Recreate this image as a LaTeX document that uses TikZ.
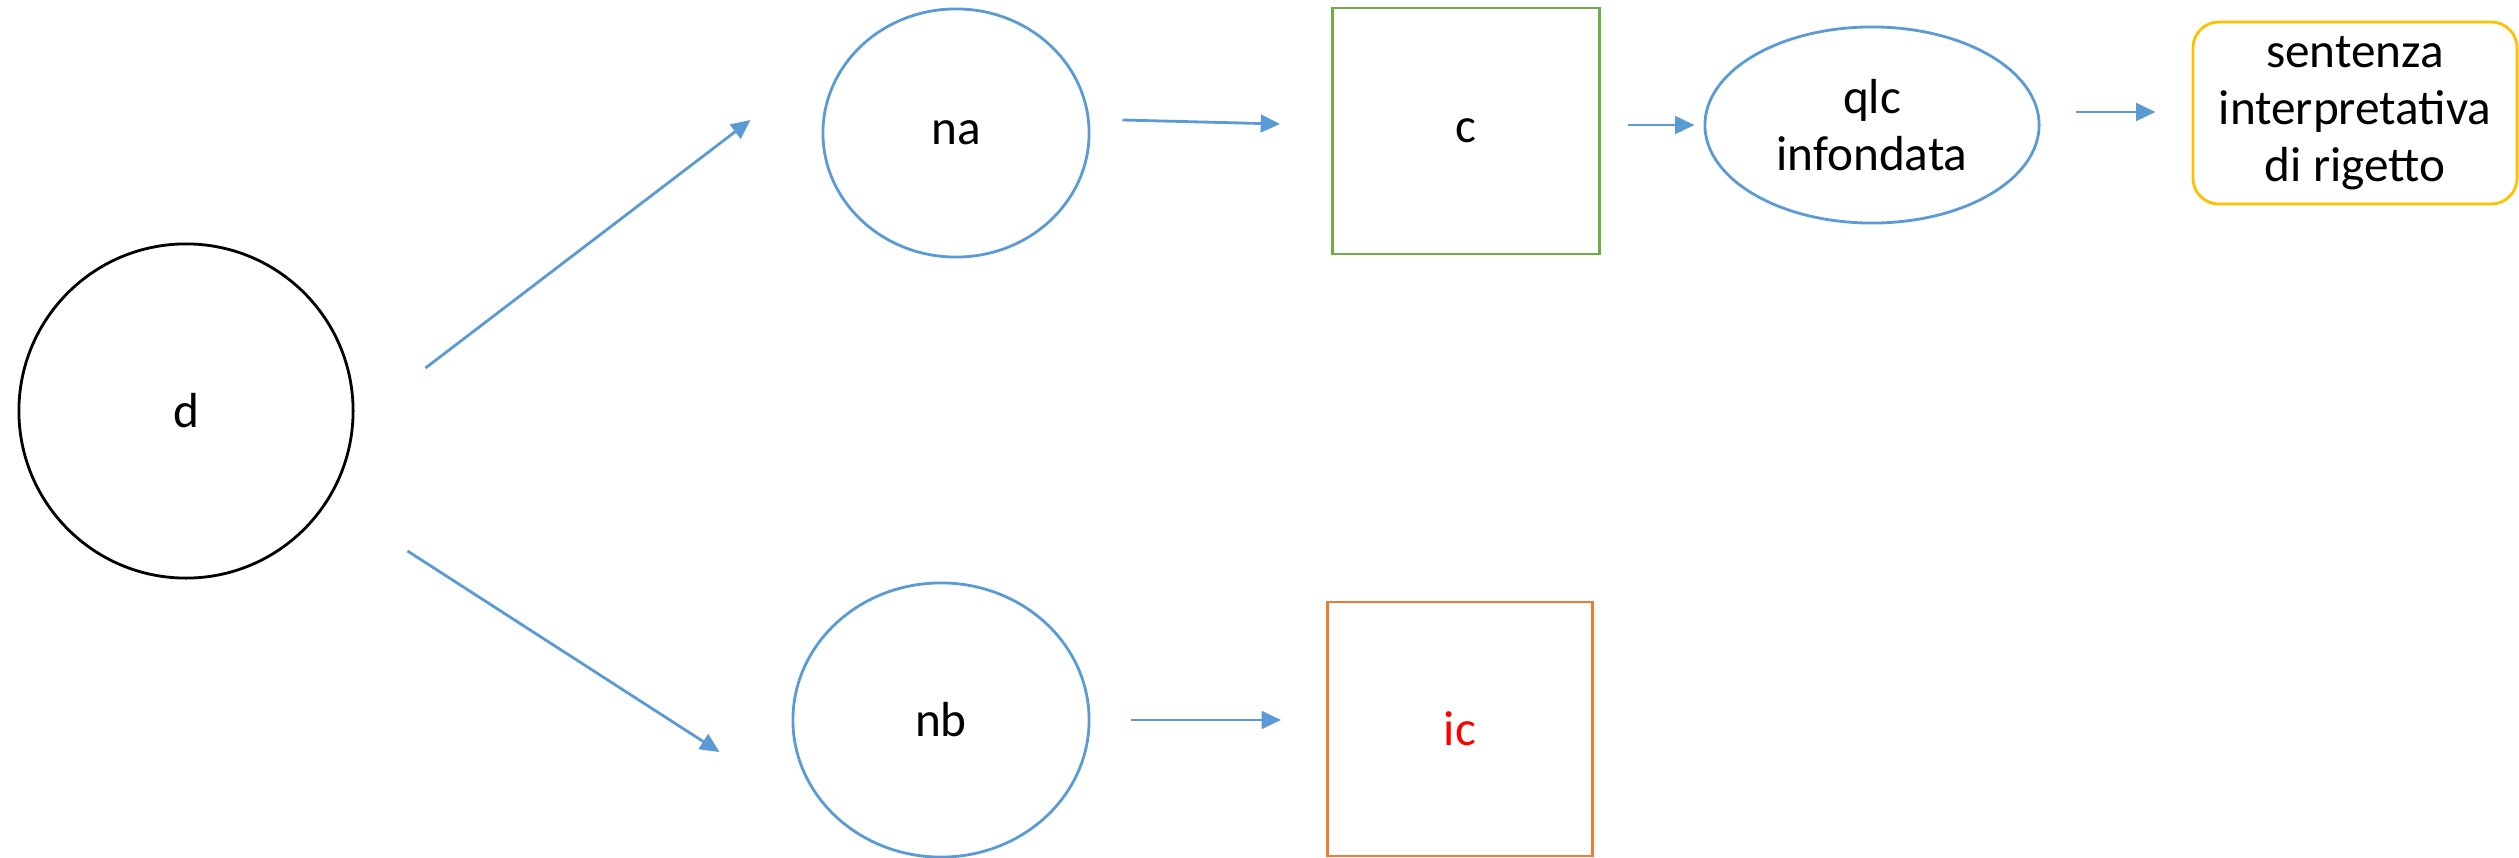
\documentclass[tikz,border=0pt]{standalone}
\usepackage{fontspec}
\setmainfont{Carlito}
\usetikzlibrary{shapes.geometric,arrows.meta}

\definecolor{officeblue}{HTML}{5B9BD5}
\definecolor{officegreen}{HTML}{70AD47}
\definecolor{officeorange}{HTML}{ED7D31}
\definecolor{officegold}{HTML}{FFC000}

\begin{document}
\begin{tikzpicture}[x=0.01cm,y=-0.01cm,
  every node/.style={align=center,font=\fontsize{14}{16.2}\selectfont},
  oval/.style={ellipse,draw=officeblue,line width=0.8pt,inner sep=0pt},
  sq/.style={rectangle,line width=0.8pt,minimum width=2.67cm,minimum height=2.46cm},
  flow/.style={-{Triangle[length=5.5pt,width=5pt]},officeblue,line width=0.8pt}]

\useasboundingbox (0,0) rectangle (2519,858);

% Place the nodes at their coordinates
\node[circle,draw,line width=0.8pt,minimum size=3.34cm] (dubbio) at (186,411) {d};
\node[oval,minimum width=2.66cm,minimum height=2.48cm] (na) at (956,133) {na};
\node[oval,minimum width=2.96cm,minimum height=2.74cm] (nb) at (941,720) {nb};
\node[sq,draw=officegreen] (c) at (1466,131) {c};
\node[sq,draw=officeorange,minimum width=2.65cm,minimum height=2.54cm,text=red] (ic) at (1460,729) {ic};
\node[oval,minimum width=3.34cm,minimum height=1.96cm] (qlc) at (1872,125) {qlc\\infondata};
\node[rectangle,rounded corners=0.26cm,draw=officegold,line width=0.8pt,
  minimum width=3.24cm,minimum height=1.82cm] (sentenza) at (2355,113)
  {sentenza\\interpretativa\\di rigetto};

% Draw the arrows between the nodes
\draw[flow] ([shift={(71,-43)}]dubbio.east) -- ([shift={(-71,-13)}]na.west);
\draw[flow] ([shift={(53,140)}]dubbio.east) -- ([shift={(-72,32)}]nb.west);
\draw[flow] ([shift={(32,-13)}]na.east) -- ([shift={(-51,-7)}]c.west);
\draw[flow] ([shift={(27,-6)}]c.east) -- ([shift={(-9,0)}]qlc.west);
\draw[flow] ([shift={(35,-13)}]qlc.east) -- ([shift={(-36,-1)}]sentenza.west);
\draw[flow] ([shift={(40,0)}]nb.east) -- ([shift={(-45,-9)}]ic.west);

\end{tikzpicture}
\end{document}
